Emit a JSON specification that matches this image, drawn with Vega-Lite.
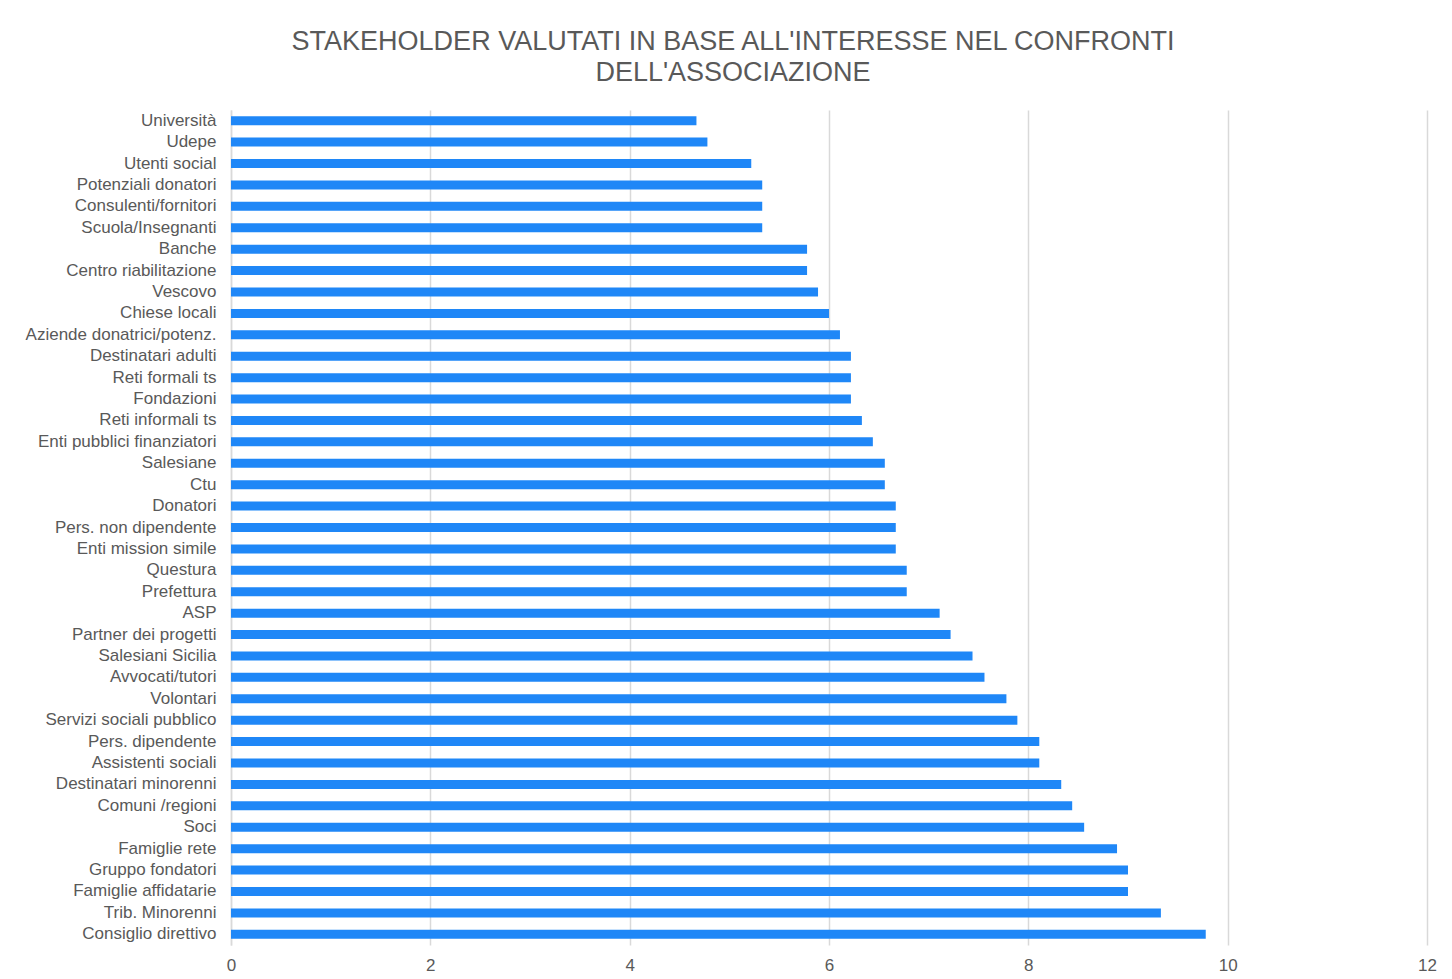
{
  "$schema": "https://vega.github.io/schema/vega-lite/v6.json",
  "autosize": {"type": "none"},
  "width": 1196,
  "height": 835,
  "padding": {"left": 231, "top": 110, "right": 25, "bottom": 34},
  "background": "white",
  "title": {
    "text": ["STAKEHOLDER VALUTATI IN BASE ALL'INTERESSE NEL CONFRONTI", "DELL'ASSOCIAZIONE"],
    "font": "Liberation Sans",
    "fontSize": 27,
    "fontWeight": "normal",
    "color": "#595959",
    "lineHeight": 31,
    "anchor": "middle",
    "dx": -96,
    "offset": 23
  },
  "data": {
    "values": [
      {"stakeholder": "Università", "valore": 4.67},
      {"stakeholder": "Udepe", "valore": 4.78},
      {"stakeholder": "Utenti social", "valore": 5.22},
      {"stakeholder": "Potenziali donatori", "valore": 5.33},
      {"stakeholder": "Consulenti/fornitori", "valore": 5.33},
      {"stakeholder": "Scuola/Insegnanti", "valore": 5.33},
      {"stakeholder": "Banche", "valore": 5.78},
      {"stakeholder": "Centro riabilitazione", "valore": 5.78},
      {"stakeholder": "Vescovo", "valore": 5.89},
      {"stakeholder": "Chiese locali ", "valore": 6.0},
      {"stakeholder": "Aziende donatrici/potenz.", "valore": 6.11},
      {"stakeholder": "Destinatari adulti", "valore": 6.22},
      {"stakeholder": "Reti formali ts", "valore": 6.22},
      {"stakeholder": "Fondazioni", "valore": 6.22},
      {"stakeholder": "Reti informali ts", "valore": 6.33},
      {"stakeholder": "Enti pubblici finanziatori", "valore": 6.44},
      {"stakeholder": "Salesiane ", "valore": 6.56},
      {"stakeholder": "Ctu", "valore": 6.56},
      {"stakeholder": "Donatori", "valore": 6.67},
      {"stakeholder": "Pers. non dipendente", "valore": 6.67},
      {"stakeholder": "Enti mission simile ", "valore": 6.67},
      {"stakeholder": "Questura", "valore": 6.78},
      {"stakeholder": "Prefettura", "valore": 6.78},
      {"stakeholder": "ASP", "valore": 7.11},
      {"stakeholder": "Partner dei progetti", "valore": 7.22},
      {"stakeholder": "Salesiani Sicilia", "valore": 7.44},
      {"stakeholder": "Avvocati/tutori", "valore": 7.56},
      {"stakeholder": "Volontari", "valore": 7.78},
      {"stakeholder": "Servizi sociali pubblico", "valore": 7.89},
      {"stakeholder": "Pers. dipendente", "valore": 8.11},
      {"stakeholder": "Assistenti sociali", "valore": 8.11},
      {"stakeholder": "Destinatari minorenni", "valore": 8.33},
      {"stakeholder": "Comuni /regioni", "valore": 8.44},
      {"stakeholder": "Soci", "valore": 8.56},
      {"stakeholder": "Famiglie rete", "valore": 8.89},
      {"stakeholder": "Gruppo fondatori ", "valore": 9.0},
      {"stakeholder": "Famiglie affidatarie", "valore": 9.0},
      {"stakeholder": "Trib. Minorenni", "valore": 9.33},
      {"stakeholder": "Consiglio direttivo", "valore": 9.78}
    ]
  },
  "mark": {"type": "bar", "color": "#1f87f7", "size": 9},
  "encoding": {
    "y": {
      "field": "stakeholder",
      "type": "nominal",
      "sort": null,
      "title": null,
      "scale": {"paddingOuter": 0, "paddingInner": 0},
      "axis": {
        "ticks": false,
        "domain": true,
        "domainColor": "#d9d9d9",
        "domainWidth": 1.5,
        "labelFont": "Liberation Sans",
        "labelFontSize": 17,
        "labelColor": "#595959",
        "labelPadding": 15,
        "labelLimit": 300
      }
    },
    "x": {
      "field": "valore",
      "type": "quantitative",
      "title": null,
      "scale": {"domain": [0, 12], "nice": false},
      "axis": {
        "values": [0, 2, 4, 6, 8, 10, 12],
        "ticks": false,
        "domain": false,
        "grid": true,
        "gridColor": "#d9d9d9",
        "gridWidth": 1.5,
        "labelFlush": false,
        "labelFont": "Liberation Sans",
        "labelFontSize": 17,
        "labelColor": "#595959",
        "labelPadding": 12
      }
    }
  },
  "config": {"view": {"stroke": null}}
}
